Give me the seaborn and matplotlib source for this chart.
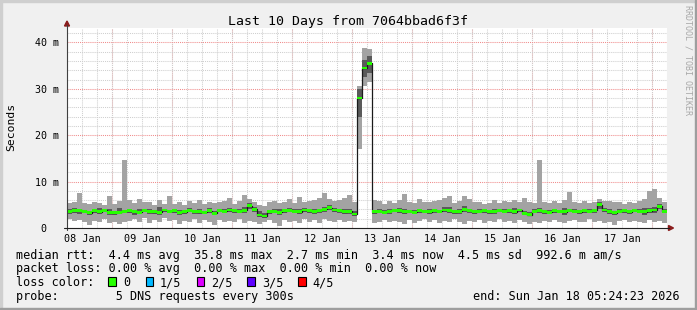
import numpy as np
import matplotlib
matplotlib.use('Agg')
import matplotlib.pyplot as plt
import seaborn as sns
from matplotlib.lines import Line2D
from matplotlib.patches import Rectangle, Polygon

# ---------------- data (2-hour consolidated samples, ms) ----------------
start_day = 0.25          # first sample: 08 Jan 06:00 (days since 08 Jan 00:00)
step_days = 2 / 24        # 2 h per consolidated sample

lo = [2.0,1.5,1.8,1.2,0.6,1.6,1.3,2.0,1.1,
      1.4,0.8,1.2,1.5,1.9,1.3,2.1,1.0,1.7,1.2,2.2,1.5,
      1.8,0.9,1.6,1.3,2.0,1.1,1.7,1.4,0.7,1.8,1.2,1.5,
      1.3,1.9,1.0,1.6,1.4,0.8,1.2,1.7,1.1,0.5,1.8,1.4,
      1.6,1.0,2.0,1.3,1.7,1.1,1.9,1.5,1.2,1.8,1.4,1.6,
      1.3,17.0,30.5,31.5,1.0,1.4,1.8,1.2,1.6,1.3,0.9,1.7,
      1.1,1.5,2.0,1.3,1.7,1.0,1.6,1.4,1.9,1.2,0.8,1.5,
      1.3,1.8,1.1,1.6,1.4,1.9,1.2,1.5,1.0,1.7,1.3,0.9,
      1.4,1.1,1.6,1.2,1.8,1.3,1.0,1.5,1.7,1.2,1.4,1.9,
      1.3,1.6,1.1,1.4,0.6,1.5,1.8,1.2,1.6,1.3,1.0,1.7,
      1.2,1.5,1.1]
q1 = [3.1,3.3,3.0,3.2,2.8,3.3,3.1,3.4,2.7,
      2.8,3.0,3.2,3.3,2.9,3.0,3.5,3.0,3.1,2.8,3.4,3.2,
      3.3,2.9,3.1,3.4,3.0,3.1,3.0,3.3,2.7,3.4,3.2,3.4,
      3.2,3.2,3.3,4.0,3.4,2.3,2.1,3.1,3.2,2.8,3.3,3.4,
      3.2,3.0,3.4,3.3,3.1,3.3,3.5,3.8,3.4,3.3,3.0,3.1,
      2.6,24.0,32.5,33.5,3.1,3.2,3.0,3.1,3.4,3.3,3.0,3.2,
      3.0,3.2,3.2,3.0,3.3,3.2,3.4,3.2,3.1,3.1,3.4,3.3,
      3.1,3.2,3.3,3.1,3.0,3.4,3.2,3.3,3.0,3.4,2.7,2.5,
      3.2,3.3,3.1,3.0,3.3,3.2,2.9,3.4,3.2,3.1,3.3,3.2,
      3.3,4.2,3.4,3.0,2.8,3.2,3.3,3.1,3.4,3.2,2.9,3.2,
      3.3,4.0,3.2]
med = [3.6,3.7,3.8,3.6,3.3,3.7,3.5,3.8,3.4,
       3.3,3.4,3.6,3.7,3.5,3.4,3.8,3.6,3.5,3.4,3.9,3.6,
       3.7,3.4,3.5,3.8,3.6,3.5,3.4,3.7,3.2,3.8,3.6,3.9,
       3.7,3.6,3.8,4.8,4.0,2.8,2.6,3.5,3.6,3.4,3.7,3.8,
       3.6,3.5,3.9,3.7,3.6,3.8,4.0,4.4,3.9,3.8,3.5,3.6,
       3.0,28.0,34.5,35.5,3.5,3.6,3.4,3.6,3.8,3.7,3.5,3.6,
       3.4,3.7,3.6,3.5,3.8,3.6,3.9,3.7,3.5,3.6,4.0,3.8,
       3.5,3.6,3.7,3.5,3.6,3.8,3.6,3.7,3.5,3.9,3.2,2.9,
       3.6,3.8,3.5,3.4,3.7,3.6,3.5,3.8,3.6,3.5,3.7,3.6,
       3.8,5.0,3.9,3.5,3.3,3.6,3.7,3.5,3.8,3.6,3.5,3.7,
       3.9,4.7,3.6]
q3 = [4.0,4.4,4.2,3.9,3.7,4.0,4.3,4.1,4.0,
      3.7,4.3,3.9,4.2,3.8,4.1,4.2,4.0,3.8,4.5,4.2,3.9,
      4.0,3.9,3.8,4.4,3.9,4.0,3.7,4.3,3.6,4.1,4.1,4.4,
      4.1,4.0,4.6,5.4,4.5,3.6,3.2,3.9,4.0,4.0,4.1,4.4,
      4.0,4.1,4.3,4.1,4.2,4.2,4.6,5.0,4.4,4.1,4.2,4.0,
      3.7,30.0,36.2,37.0,3.9,4.1,3.8,4.2,4.1,4.4,4.0,3.9,
      3.8,4.1,3.9,4.0,4.2,3.9,4.5,4.6,3.8,4.0,4.8,4.2,
      3.9,4.0,4.1,3.8,4.2,4.1,4.0,4.0,4.3,4.2,3.7,3.5,
      4.0,4.3,3.9,3.8,4.1,3.9,4.3,4.2,4.0,3.8,4.2,4.0,
      4.2,5.5,4.4,4.1,3.7,4.0,4.2,3.9,4.1,4.0,4.3,4.4,
      4.6,5.2,4.0]
hi = [5.3,5.6,7.6,5.4,5.2,5.5,5.4,5.0,7.0,
      5.2,5.8,14.6,6.0,5.3,6.2,5.5,5.6,5.0,6.0,5.2,6.8,
      5.1,5.7,5.0,5.9,5.4,6.0,5.2,5.6,5.3,5.5,5.8,6.4,
      5.2,5.8,7.1,6.2,5.5,5.0,4.8,5.6,5.9,5.3,5.7,6.3,
      5.4,6.6,5.6,5.8,6.1,6.4,7.5,6.2,5.9,6.0,6.4,7.1,
      5.6,30.5,38.7,38.5,6.0,5.8,5.2,5.9,5.4,6.1,7.3,5.6,
      5.3,6.2,5.5,5.7,5.9,6.0,6.4,6.9,5.4,5.8,7.0,6.3,
      5.5,5.7,5.2,5.4,6.0,5.3,5.8,5.5,6.1,5.6,6.4,5.7,
      5.4,14.6,5.5,5.3,5.8,5.4,6.0,7.8,5.6,5.3,5.9,5.4,
      5.7,6.3,5.8,5.9,5.6,5.5,5.2,5.7,5.4,5.8,6.2,8.0,
      8.4,6.4,5.5]

day_labels = ['08 Jan', '09 Jan', '10 Jan', '11 Jan', '12 Jan',
              '13 Jan', '14 Jan', '15 Jan', '16 Jan', '17 Jan']
y_major = [0, 10, 20, 30, 40]
y_labels = ['0  ', '10 m', '20 m', '30 m', '40 m']

legend_lines = [
    'median rtt:  4.4 ms avg  35.8 ms max  2.7 ms min  3.4 ms now  4.5 ms sd  992.6 m am/s',
    'packet loss: 0.00 % avg  0.00 % max  0.00 % min  0.00 % now',
    'loss color:',
    'probe:        5 DNS requests every 300s',
]
loss_labels = ['0', '1/5', '2/5', '3/5', '4/5']
loss_colors = ['#26ff00', '#00b8ff', '#dd00ff', '#5e00ff', '#ff0000']
end_text = 'end: Sun Jan 18 05:24:23 2026'
title = 'Last 10 Days from 7064bbad6f3f'

# ---------------- figure ----------------
W, H = 697, 310
sns.set_theme(style='white')
plt.rcParams['font.family'] = ['DejaVu Sans Mono']
plt.rcParams['text.color'] = 'black'
fig = plt.figure(figsize=(W / 100, H / 100), dpi=100, facecolor='#f0f0f0')

def fx(x):
    return x / W

def fy(y):
    return 1 - y / H

L, R, T, B = 67, 667, 28, 228
ax = fig.add_axes([fx(L), fy(B), (R - L) / W, (B - T) / H])
ax.set_facecolor('white')
xmin, xmax = 0.245, 10.245
ax.set_xlim(xmin, xmax)
ax.set_ylim(0, 43.1)

n = len(med)
t = start_day + np.arange(n + 1) * step_days
def ext(a):
    a = np.asarray(a, float)
    return np.append(a, a[-1])

dot = (0, (1, 1))
# grid
ax.set_xticks(np.arange(0.25, 10.3, 0.25), minor=True)
ax.xaxis.remove_overlapping_locs = False
ax.set_yticks(np.arange(0, 43.2, 2), minor=True)
ax.xaxis.grid(True, which='minor', color='#cfcfcf', linestyle=dot, linewidth=0.75, zorder=0)
ax.yaxis.grid(True, which='minor', color='#cfcfcf', linestyle=dot, linewidth=0.75, zorder=0)
ax.yaxis.grid(True, which='major', color='#f08c8c', linestyle=dot, linewidth=0.75, zorder=0)
ax.xaxis.grid(False, which='major')
for d in range(1, 11):
    ax.axvline(d, color='#f08c8c', linestyle=dot, linewidth=0.75, zorder=0.5)
ax.set_axisbelow(True)

# smoke
ax.fill_between(t, ext(lo), ext(hi), step='post', color='#a3a3a3', linewidth=0, zorder=1)
ax.fill_between(t, ext(q1), ext(q3), step='post', color='#5a5a5a', linewidth=0, zorder=2)
# median line
sns.lineplot(x=t, y=ext(med), drawstyle='steps-post', color='#1a1a1a', linewidth=0.9,
             estimator=None, sort=False, ax=ax, zorder=3)
# loss-colour band around the median
band = 0.3
ax.fill_between(t, ext(med) - band, ext(med) + band, step='post', color=loss_colors[0],
                linewidth=0, zorder=4)

# ticks
ax.set_xticks([d + 0.5 for d in range(10)])
ax.set_xticklabels(day_labels)
ax.set_yticks(y_major)
ax.set_yticklabels(y_labels)
ax.tick_params(axis='x', which='major', length=0, pad=4.5, labelsize=7.3, colors='black')
ax.tick_params(axis='x', which='minor', length=1.5, direction='out', color='#b0b0b0', width=0.7)
ax.tick_params(axis='y', which='major', length=1.5, direction='out', color='#e08080', width=0.7,
               pad=4.5, labelsize=7.2, labelcolor='black')
ax.tick_params(axis='y', which='minor', length=1.5, direction='out', color='#b0b0b0', width=0.7)
for s in ax.spines.values():
    s.set_visible(False)
ax.set_xlabel('')
ax.set_ylabel('')

# axes lines and arrows
fig.add_artist(Line2D([fx(67), fx(67)], [fy(230), fy(25)], color='#404040', linewidth=0.8))
fig.add_artist(Line2D([fx(64), fx(669)], [fy(228), fy(228)], color='#202020', linewidth=0.8))
fig.add_artist(Polygon([[fx(64.5), fy(26)], [fx(69.5), fy(26)], [fx(67), fy(21)]],
                       closed=True, color='#8a1c1c', transform=fig.transFigure))
fig.add_artist(Polygon([[fx(668.5), fy(225.5)], [fx(668.5), fy(230.5)], [fx(673.5), fy(228)]],
                       closed=True, color='#8a1c1c', transform=fig.transFigure))

# frame shading
fig.add_artist(Rectangle((0, fy(2)), 1, 2 / H, color='#cfcfcf', transform=fig.transFigure))
fig.add_artist(Rectangle((0, 0), 2 / W, 1, color='#cfcfcf', transform=fig.transFigure))
fig.add_artist(Rectangle((0, 0), 1, 2 / H, color='#9e9e9e', transform=fig.transFigure))
fig.add_artist(Rectangle((1 - 2 / W, 0), 2 / W, 1, color='#9e9e9e', transform=fig.transFigure))

# texts
fig.text(fx(348), fy(24.5), title, ha='center', va='baseline', fontsize=9.5)
fig.text(fx(11.5), fy(127), 'Seconds', rotation=90, ha='center', va='center', fontsize=8.2)
fig.text(fx(688), fy(60), 'RRDTOOL / TOBI OETIKER', rotation=270, ha='center', va='center',
         fontsize=6, color='#a8a8a8')

base = [258.6, 272.3, 286.0, 299.7]
for txt, yb in zip(legend_lines, base):
    fig.text(fx(16), fy(yb), txt, ha='left', va='baseline', fontsize=8.5)
fig.text(fx(680), fy(base[3]), end_text, ha='right', va='baseline', fontsize=8.5)

box_x = [108.3, 145.7, 196.7, 247.3, 298.3]
lab_x = [123.3, 160.0, 210.7, 261.7, 312.3]
for bx, lx, c, lab in zip(box_x, lab_x, loss_colors, loss_labels):
    fig.add_artist(Rectangle((fx(bx), fy(285.7)), 7.7 / W, 8.3 / H, facecolor=c,
                             edgecolor='black', linewidth=0.8, transform=fig.transFigure))
    fig.text(fx(lx), fy(base[2]), lab, ha='left', va='baseline', fontsize=8.5)

fig.savefig('out.png', dpi=100, facecolor=fig.get_facecolor())
